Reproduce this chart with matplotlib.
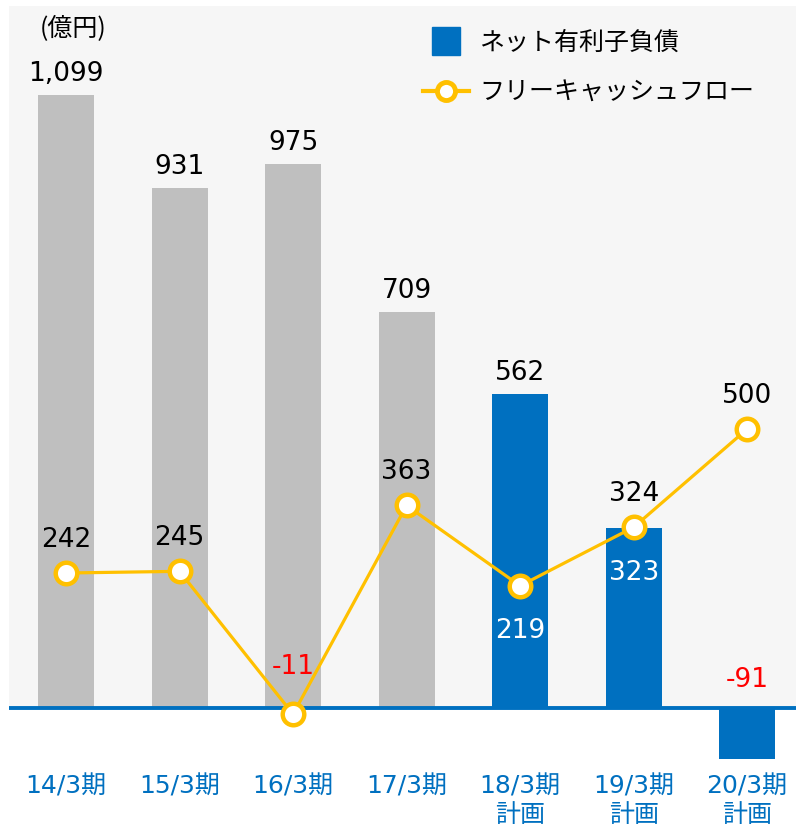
import matplotlib
matplotlib.use("Agg")
import matplotlib.pyplot as plt
from matplotlib.lines import Line2D

plt.rcParams['font.family'] = ['DejaVu Sans', 'Noto Sans CJK JP']

# data (億円)
periods = ['14/3期', '15/3期', '16/3期', '17/3期', '18/3期\n計画', '19/3期\n計画', '20/3期\n計画']
net_debt = [1099, 931, 975, 709, 562, 323, -91]
free_cf = [242, 245, -11, 363, 219, 324, 500]
is_plan = [False, False, False, False, True, True, True]

GRAY = '#bfbfbf'
BLUE = '#0070c0'
YELLOW = '#ffc000'
RED = '#ff0000'
BG = '#f6f6f6'
JP = ['Noto Sans CJK JP', 'DejaVu Sans']

fig = plt.figure(figsize=(7.96, 8.31), dpi=100)
W, H = 796, 831
ax = fig.add_axes([9 / W, (H - 770) / H, (W - 9) / W, (770 - 6) / H])
ax.set_facecolor('none')

x = list(range(len(periods)))
ax.set_xlim(-0.502, 6.43)
ax.set_ylim(-111, 1258)

# shaded plot area above the zero line
ax.axhspan(0, 1258, color=BG, zorder=0, lw=0)

bar_colors = [BLUE if p else GRAY for p in is_plan]
ax.bar(x, net_debt, width=0.493, color=bar_colors, zorder=2)
ax.axhline(0, color=BLUE, lw=2.8, zorder=3)

ax.plot(x, free_cf, color=YELLOW, lw=2.3, marker='o', ms=15.5,
        mfc='white', mec=YELLOW, mew=3.2, zorder=4)

num_font = dict(fontsize=19, ha='center', va='center')

# bar value labels
for i, v in enumerate(net_debt):
    if i == 5:
        # inside the bar, under the line label
        ax.annotate(f'{v:,}', (i, v), xytext=(0, -45), textcoords='offset pixels',
                    color='white', zorder=5, **num_font)
    elif v < 0:
        ax.annotate(f'{v:,}', (i, 0), xytext=(0, 28), textcoords='offset pixels',
                    color=RED, zorder=5, **num_font)
    else:
        ax.annotate(f'{v:,}', (i, v), xytext=(0, 21), textcoords='offset pixels',
                    color='black', zorder=5, **num_font)

# free cash flow labels
for i, v in enumerate(free_cf):
    if v < 0:
        ax.annotate(f'{v:,}', (i, v), xytext=(0, 47), textcoords='offset pixels',
                    color=RED, zorder=5, **num_font)
    elif i == 4:
        ax.annotate(f'{v:,}', (i, v), xytext=(0, -45), textcoords='offset pixels',
                    color='white', zorder=5, **num_font)
    else:
        ax.annotate(f'{v:,}', (i, v), xytext=(0, 33), textcoords='offset pixels',
                    color='black', zorder=5, **num_font)

ax.set_xticks(x)
ax.set_xticklabels(periods, color=BLUE, fontsize=18, linespacing=1.25)
ax.tick_params(axis='x', length=0, pad=3)
ax.set_yticks([])
for s in ax.spines.values():
    s.set_visible(False)

fig.text(73 / W, 1 - 29 / H, '(億円)', ha='center', va='center', fontsize=18,
         family=JP)

handles = [
    Line2D([], [], marker='s', linestyle='none', ms=20, color=BLUE),
    Line2D([], [], color=YELLOW, lw=3, marker='o', ms=13, mfc='white', mec=YELLOW, mew=3.5),
]
leg = ax.legend(handles, ['ネット有利子負債', 'フリーキャッシュフロー'],
                loc='upper left', bbox_to_anchor=(423 / W, 1 - 30 / H),
                bbox_transform=fig.transFigure, frameon=False,
                prop={'family': JP, 'size': 18},
                handlelength=1.85, handletextpad=0.4, labelspacing=0.95,
                borderaxespad=0, borderpad=0)

fig.savefig('out.png', dpi=100, facecolor='white')
